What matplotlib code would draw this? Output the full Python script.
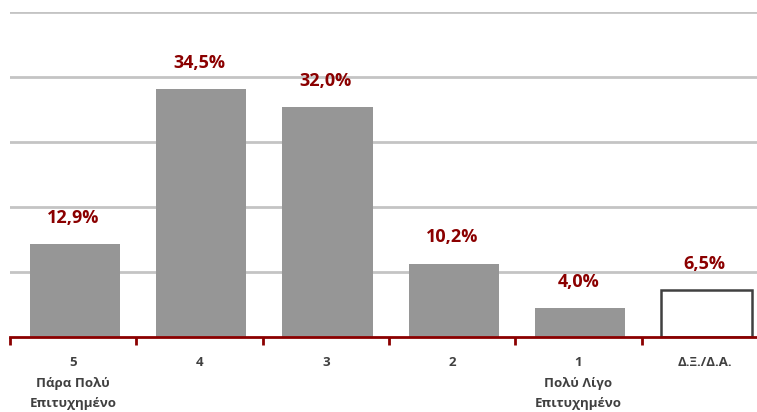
import matplotlib
matplotlib.use("Agg")
import matplotlib.pyplot as plt
import numpy as np

categories = ["5\nΠάρα Πολύ\nΕπιτυχημένο", "4", "3", "2", "1\nΠολύ Λίγο\nΕπιτυχημένο", "Δ.Ξ./Δ.Α."]
values = [12.9, 34.5, 32.0, 10.2, 4.0, 6.5]
labels = ["12,9%", "34,5%", "32,0%", "10,2%", "4,0%", "6,5%"]

W, H = 757, 412
fig = plt.figure(figsize=(W / 100, H / 100), dpi=100)
ax = fig.add_axes([10 / W, 75 / H, 758 / W, 325.5 / H])

x = np.arange(len(values))
facecolors = ["#969696"] * 5 + ["white"]
edgecolors = ["#969696"] * 5 + ["#404040"]
linewidths = [0] * 5 + [1.8]
bars = ax.bar(x + 0.012, values, width=0.715, color=facecolors, edgecolor=edgecolors,
              linewidth=linewidths, zorder=3)

ymax = 45.3
ax.set_ylim(0, ymax)
ax.set_xlim(-0.5, len(values) - 0.5)
ax.set_yticks(np.linspace(0, ymax, 6)[1:])
ax.yaxis.grid(True, color="#C4C4C4", linewidth=2.0, zorder=0)
ax.tick_params(axis="y", left=False, labelleft=False)

for s in ["left", "right", "top"]:
    ax.spines[s].set_visible(False)
ax.spines["bottom"].set_color("#8B0000")
ax.spines["bottom"].set_linewidth(2.0)
ax.spines["bottom"].set_zorder(4)

ax.set_xticks(x)
ax.set_xticklabels(categories, fontsize=9.5, fontweight="bold", color="#404040",
                   family="Open Sans", linespacing=1.78)
ax.tick_params(axis="x", which="major", length=0, pad=13.5)
ax.set_xticks(np.arange(-0.5, len(values), 1.0), minor=True)
ax.tick_params(axis="x", which="minor", length=6, width=2.0, color="#8B0000", direction="out")

for xi, v, lab in zip(x, values, labels):
    ax.annotate(lab, (xi, v), xytext=(0, 12.5), textcoords="offset points",
                ha="center", va="bottom", fontsize=13, fontweight="bold",
                color="#8B0000", family="Open Sans")

fig.savefig("out.png", dpi=100)
